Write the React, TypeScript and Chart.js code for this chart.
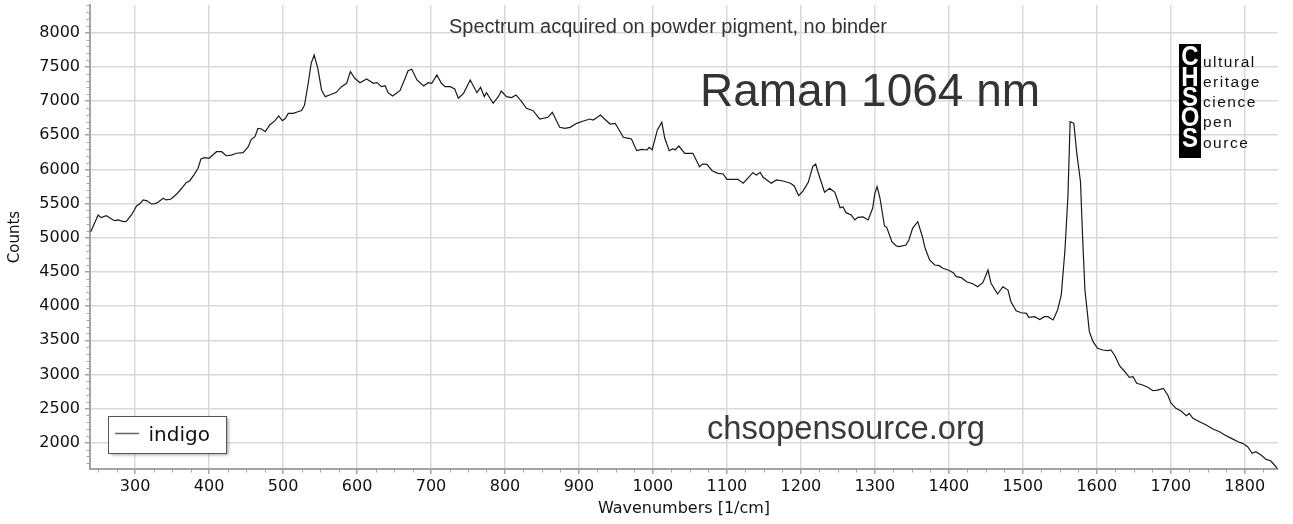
import { useEffect, useRef } from "react";
import { Chart, registerables } from "chart.js";

Chart.register(...registerables);

// ---- Data ----
const wavenumbers = [
  240, 250, 254, 261, 272, 277, 284, 288, 295, 302, 306, 311, 316, 322, 327, 331, 338, 342, 348, 356,
  363, 369, 374, 380, 385, 389, 394, 400, 405, 410, 417, 423, 430, 437, 446, 453, 457, 462, 466, 471,
  476, 482, 489, 494, 499, 503, 507, 514, 520, 525, 529, 534, 538, 542, 547, 552, 557, 563, 572, 579,
  586, 591, 597, 604, 613, 622, 627, 633, 638, 642, 648, 658, 665, 669, 674, 681, 690, 696, 701, 708,
  714, 719, 726, 732, 737, 744, 753, 762, 767, 772, 775, 784, 791, 795, 802, 809, 815, 822, 829, 838,
  847, 858, 864, 874, 881, 888, 897, 906, 915, 919, 924, 929, 935, 942, 949, 953, 960, 967, 971, 978,
  985, 992, 995, 999, 1006, 1012, 1016, 1022, 1027, 1030, 1035, 1043, 1054, 1063, 1067, 1073, 1080, 1088, 1095, 1100,
  1108, 1115, 1122, 1129, 1135, 1140, 1145, 1149, 1160, 1167, 1176, 1186, 1191, 1197, 1203, 1210, 1216, 1220, 1223, 1232,
  1239, 1246, 1253, 1257, 1261, 1268, 1273, 1277, 1284, 1291, 1297, 1300, 1303, 1307, 1313, 1316, 1323, 1329, 1333, 1342,
  1346, 1351, 1358, 1364, 1368, 1374, 1381, 1387, 1392, 1399, 1406, 1410, 1417, 1424, 1433, 1439, 1446, 1453, 1457, 1466,
  1473, 1480, 1484, 1491, 1498, 1505, 1508, 1516, 1523, 1529, 1534, 1541, 1547, 1552, 1557, 1561, 1564, 1569, 1573, 1578,
  1581, 1584, 1590, 1595, 1601, 1608, 1615, 1619, 1624, 1631, 1638, 1644, 1649, 1654, 1662, 1669, 1676, 1682, 1690, 1696,
  1700, 1707, 1714, 1721, 1725, 1730, 1739, 1748, 1757, 1766, 1773, 1782, 1791, 1797, 1804, 1810, 1815, 1822, 1829, 1835,
  1839, 1844,
];

const counts = [
  5089, 5333, 5294, 5323, 5250, 5260, 5235, 5240, 5333, 5465, 5494, 5553, 5540, 5494, 5500, 5519, 5577, 5553, 5563, 5636,
  5724, 5806, 5835, 5928, 6016, 6152, 6171, 6162, 6210, 6259, 6259, 6200, 6210, 6236, 6245, 6332, 6440, 6479, 6601, 6591,
  6552, 6650, 6713, 6782, 6713, 6745, 6820, 6820, 6844, 6860, 6942, 7260, 7552, 7674, 7479, 7162, 7064, 7089, 7128, 7210,
  7260, 7430, 7333, 7268, 7323, 7260, 7270, 7210, 7225, 7122, 7074, 7152, 7333, 7444, 7465, 7308, 7220, 7268, 7260, 7381,
  7260, 7210, 7210, 7177, 7040, 7113, 7308, 7122, 7201, 7064, 7122, 6967, 7064, 7147, 7064, 7050, 7089, 7000, 6894, 6859,
  6737, 6762, 6835, 6616, 6601, 6615, 6674, 6708, 6737, 6723, 6757, 6796, 6733, 6664, 6674, 6601, 6470, 6455, 6445, 6274,
  6293, 6284, 6323, 6284, 6577, 6689, 6455, 6274, 6304, 6284, 6342, 6235, 6235, 6040, 6079, 6074, 5981, 5943, 5933, 5855,
  5855, 5855, 5797, 5879, 5952, 5918, 5957, 5884, 5797, 5845, 5830, 5797, 5758, 5616, 5685, 5811, 6040, 6079, 5966, 5665,
  5724, 5665, 5440, 5450, 5367, 5333, 5260, 5299, 5304, 5260, 5431, 5650, 5747, 5577, 5172, 5153, 4942, 4880, 4870, 4894,
  4967, 5138, 5235, 5026, 4846, 4675, 4601, 4592, 4553, 4528, 4489, 4431, 4416, 4357, 4323, 4284, 4343, 4528, 4333, 4177,
  4284, 4235, 4064, 3933, 3903, 3894, 3836, 3845, 3805, 3845, 3845, 3797, 3943, 4162, 4821, 5601, 6698, 6674, 6235, 5820,
  4967, 4236, 3626, 3480, 3383, 3358, 3350, 3358, 3285, 3124, 3040, 2959, 2968, 2871, 2846, 2812, 2762, 2772, 2797, 2700,
  2587, 2504, 2465, 2397, 2430, 2358, 2309, 2260, 2202, 2163, 2114, 2065, 2016, 1992, 1943, 1846, 1870, 1821, 1758, 1738,
  1690, 1627,
];

const xTickValues = [300, 400, 500, 600, 700, 800, 900, 1000, 1100, 1200, 1300, 1400, 1500, 1600, 1700, 1800];
const yTickValues = [2000, 2500, 3000, 3500, 4000, 4500, 5000, 5500, 6000, 6500, 7000, 7500, 8000];

const X_MIN = 239;
const X_MAX = 1845;
const Y_MIN = 1617;
const Y_MAX = 8405;
const X_MINOR_STEP = 25;
const Y_MINOR_STEP = 100;

const seriesLabel = "indigo";
const xAxisTitle = "Wavenumbers [1/cm]";
const yAxisTitle = "Counts";
const noteTitle = "Spectrum acquired on powder pigment, no binder";
const noteMethod = "Raman 1064 nm";
const noteSite = "chsopensource.org";
const logoCaps = ["C", "H", "S", "O", "S"];
const logoRest = ["ultural", "eritage", "cience", "pen", "ource"];

const AXIS_COLOR = "#a3a3a3";
const GRID_COLOR = "#d9d9d9";
const TICK_FONT = "'DejaVu Sans', Verdana, sans-serif";
const NOTE_FONT = "'Liberation Sans', Arial, sans-serif";

const decorPlugin = {
  id: "decor",
  beforeDatasetsDraw(chart: any) {
    const ctx = chart.ctx;
    const xs = chart.scales.x;
    const ys = chart.scales.y;
    const area = chart.chartArea;
    ctx.save();
    // minor ticks
    ctx.strokeStyle = AXIS_COLOR;
    ctx.lineWidth = 1;
    ctx.beginPath();
    for (let v = Math.ceil(X_MIN / X_MINOR_STEP) * X_MINOR_STEP; v <= X_MAX; v += X_MINOR_STEP) {
      if (v % 100 === 0) continue;
      const px = Math.round(xs.getPixelForValue(v)) + 0.5;
      ctx.moveTo(px, area.bottom);
      ctx.lineTo(px, area.bottom + 3.5);
    }
    for (let v = Math.ceil(Y_MIN / Y_MINOR_STEP) * Y_MINOR_STEP; v <= Y_MAX; v += Y_MINOR_STEP) {
      if (v % 500 === 0) continue;
      const py = Math.round(ys.getPixelForValue(v)) + 0.5;
      ctx.moveTo(area.left - 3.5, py);
      ctx.lineTo(area.left, py);
    }
    ctx.stroke();

    // annotations
    ctx.fillStyle = "#333";
    ctx.textBaseline = "alphabetic";
    ctx.textAlign = "center";
    ctx.font = `20px ${NOTE_FONT}`;
    ctx.fillText(noteTitle, 668, 33);
    ctx.textAlign = "left";
    ctx.font = `46px ${NOTE_FONT}`;
    ctx.fillText(noteMethod, 700, 106);
    ctx.fillStyle = "#3a3a3a";
    ctx.font = `32.7px ${NOTE_FONT}`;
    ctx.fillText(noteSite, 707, 438.5);

    // logo
    ctx.fillStyle = "#000";
    ctx.fillRect(1179, 44, 22, 114);
    const capBase = [65, 85.5, 105.5, 126, 146.5];
    const restBase = [66.5, 87, 106.5, 127, 147.5];
    ctx.font = `bold 24px ${NOTE_FONT}`;
    ctx.textAlign = "center";
    ctx.fillStyle = "#fff";
    logoCaps.forEach((c, i) => {
      ctx.save();
      ctx.translate(1190, capBase[i]);
      ctx.scale(1, 1.15);
      ctx.fillText(c, 0, 0);
      ctx.restore();
    });
    ctx.textAlign = "left";
    ctx.fillStyle = "#111";
    ctx.font = `15.5px ${NOTE_FONT}`;
    (ctx as any).letterSpacing = "1.5px";
    logoRest.forEach((w, i) => {
      ctx.fillText(w, 1203, restBase[i]);
    });
    (ctx as any).letterSpacing = "0px";
    ctx.restore();
  },
  afterDraw(chart: any) {
    const ctx = chart.ctx;
    ctx.save();
    // legend box
    ctx.shadowColor = "rgba(0,0,0,0.35)";
    ctx.shadowBlur = 3;
    ctx.shadowOffsetX = 2;
    ctx.shadowOffsetY = 2;
    ctx.fillStyle = "#fff";
    ctx.fillRect(108.5, 416, 118, 37);
    ctx.shadowColor = "transparent";
    ctx.strokeStyle = "#555";
    ctx.lineWidth = 1;
    ctx.strokeRect(108.5, 416.5, 118, 37);
    ctx.strokeStyle = "#666";
    ctx.lineWidth = 1.5;
    ctx.beginPath();
    ctx.moveTo(115, 433.5);
    ctx.lineTo(139, 433.5);
    ctx.stroke();
    ctx.fillStyle = "#111";
    ctx.font = `20px ${TICK_FONT}`;
    ctx.textAlign = "left";
    ctx.textBaseline = "alphabetic";
    ctx.fillText(seriesLabel, 148.5, 441);
    ctx.restore();
  },
};

export default function App() {
  const canvasRef = useRef<HTMLCanvasElement | null>(null);

  useEffect(() => {
    if (!canvasRef.current) return;
    const points = wavenumbers.map((w, i) => ({ x: w, y: counts[i] }));
    const chart = new Chart(canvasRef.current, {
      type: "line",
      data: {
        datasets: [
          {
            label: seriesLabel,
            data: points,
            borderColor: "#1a1a1a",
            borderWidth: 1.2,
            pointRadius: 0,
            tension: 0,
            fill: false,
          },
        ],
      },
      options: {
        animation: false,
        responsive: true,
        maintainAspectRatio: false,
        layout: { padding: { left: 0, right: 15, top: 5, bottom: 0 } },
        plugins: {
          legend: { display: false },
          tooltip: { enabled: false },
        },
        scales: {
          x: {
            type: "linear",
            min: X_MIN,
            max: X_MAX,
            afterBuildTicks: (scale: any) => {
              scale.ticks = xTickValues.map((v) => ({ value: v }));
            },
            afterFit: (scale: any) => {
              scale.height = 55;
              scale.paddingLeft = 0;
              scale.paddingRight = 0;
            },
            grid: {
              color: GRID_COLOR,
              lineWidth: 1.5,
              drawTicks: true,
              tickLength: 5,
              tickColor: AXIS_COLOR,
            },
            border: { color: AXIS_COLOR, width: 2 },
            ticks: {
              color: "#111",
              font: { family: TICK_FONT, size: 16 },
              padding: 3,
              maxRotation: 0,
              autoSkip: false,
              callback: (v: any) => String(v),
            },
            title: {
              display: true,
              text: xAxisTitle,
              color: "#111",
              font: { family: TICK_FONT, size: 16 },
              padding: { top: 0, bottom: 6 },
            },
          },
          y: {
            type: "linear",
            min: Y_MIN,
            max: Y_MAX,
            afterBuildTicks: (scale: any) => {
              scale.ticks = yTickValues.map((v) => ({ value: v }));
            },
            afterFit: (scale: any) => {
              scale.width = 90;
              scale.paddingTop = 0;
              scale.paddingBottom = 0;
            },
            grid: {
              color: GRID_COLOR,
              lineWidth: 1.5,
              drawTicks: true,
              tickLength: 5,
              tickColor: AXIS_COLOR,
            },
            border: { color: AXIS_COLOR, width: 2 },
            ticks: {
              color: "#111",
              font: { family: TICK_FONT, size: 16 },
              padding: 5,
              autoSkip: false,
              callback: (v: any) => String(v),
            },
            title: {
              display: true,
              text: yAxisTitle,
              color: "#111",
              font: { family: TICK_FONT, size: 15 },
              padding: { top: 6, bottom: 0 },
            },
          },
        },
      },
      plugins: [decorPlugin],
    });
    return () => chart.destroy();
  }, []);

  return (
    <div style={{ position: "absolute", left: 0, top: 0, width: 1293, height: 524, background: "#fff" }}>
      <canvas ref={canvasRef} />
    </div>
  );
}
